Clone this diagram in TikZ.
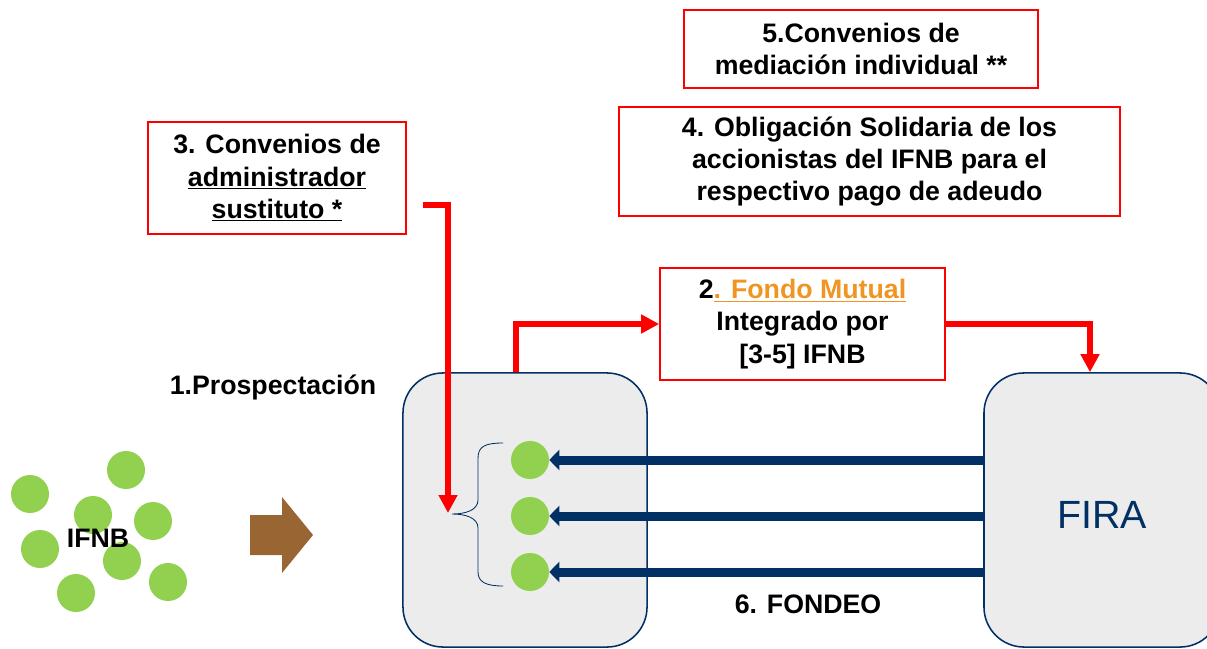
\documentclass[tikz,border=0pt]{standalone}
\usepackage{fontspec}
\setmainfont{Liberation Sans}
\usetikzlibrary{arrows.meta,positioning}
\definecolor{fondoorange}{RGB}{240,148,34}
\definecolor{firanavy}{RGB}{0,48,100}
\definecolor{boxgray}{RGB}{236,236,236}
\definecolor{ifnbgreen}{RGB}{146,208,80}
\definecolor{arrowbrown}{RGB}{153,102,51}
\tikzset{
    raw label/.style={font=\fontsize{19}{23}\selectfont\bfseries, align=center},
    red box/.style={raw label, rectangle, draw=red, line width=1.1pt, fill=white},
    stage box/.style={rectangle, rounded corners=1cm, draw=firanavy, line width=1.1pt, fill=boxgray, minimum height=6.85cm},
    ifnb dot/.style={circle, fill=ifnbgreen, minimum size=0.95cm, inner sep=0pt},
    red link/.style={-{Triangle[width=0.45cm,length=0.45cm]}, red, line width=3.8pt},
    fondeo/.style={-{Triangle[width=0.5cm,length=0.25cm]}, firanavy, line width=6.4pt}
}

\begin{document}
\begin{tikzpicture}[x=0.025cm, y=-0.025cm]
	\useasboundingbox (0,0) rectangle (1207,649);
	\clip (0,0) rectangle (1207,649);
		\node[stage box, minimum width=6.1cm] (grupo) at (525,510) {};
		\node[stage box, minimum width=5.9cm, font=\fontsize{28}{30}\selectfont, text=firanavy] (fira) at (1102,510) {\raisebox{-0.47cm}[0pt][0pt]{FIRA}};
		\node[red box, minimum width=8.85cm, minimum height=1.95cm] (mediacion) at (861,49) {5.Convenios de\\mediación individual **};
		\node[red box, minimum width=12.525cm, minimum height=2.725cm] (obligacion) at (869.5,161.5) {4. Obligación Solidaria de los\\accionistas del IFNB para el\\respectivo pago de adeudo};
		\node[red box, minimum width=6.45cm, minimum height=2.8cm] (sustituto) at (277,178) {3. Convenios de\\\underline{administrador}\\\underline{sustituto *}};
		\node[red box, minimum width=7.125cm, minimum height=2.8cm] (fondo) at (802.5,324) {2\textcolor{fondoorange}{\underline{. Fondo Mutual}}\\Integrado por\\{[3-5] IFNB}};
		\node[raw label] (prospeccion) at (273,387) {1.Prospectación};
		\node[raw label] (fondeo label) at (808,604) {6. FONDEO};
		% IFNB dispersos
		\foreach \n/\x/\y in {1/30/494, 2/126/470, 3/93/515, 4/153/521, 5/40/549, 6/122/561, 7/168/582, 8/76/593}
			\node[ifnb dot] (s\n) at (\x,\y) {};
		\node[raw label] (ifnb) at (98,538) {IFNB};
		\fill[arrowbrown] (250,515) -- (282,515) -- (282,497) -- (313,535) -- (282,573) -- (282,555) -- (250,555) -- cycle;
		% grupo de IFNB
		\foreach \n/\y in {1/460, 2/516, 3/572}
			\node[ifnb dot] (c\n) at (530,\y) {};
		\draw[firanavy, line width=0.6pt] (503,443) .. controls (486,443) and (478,446) .. (478,458) -- (478,500)
			.. controls (478,510) and (466,514) .. (452,514) coordinate (llave)
			.. controls (466,514) and (478,518) .. (478,528) -- (478,572)
			.. controls (478,582) and (486,586) .. (503,586);
		\coordinate (sustituto end) at (423,205);
		\coordinate (bajada) at (448,513);
		\draw[red link] (sustituto end) -| (bajada);
		\draw[red link] ([xshift=-0.225cm]grupo.north) |- (fondo.west);
		\draw[red link] (fondo.east) -| ([xshift=-0.3cm]fira.north);
		\foreach \n in {1,2,3}
			\draw[fondeo] (fira.west |- c\n) -- (c\n.east);
	\end{tikzpicture}
\end{document}
